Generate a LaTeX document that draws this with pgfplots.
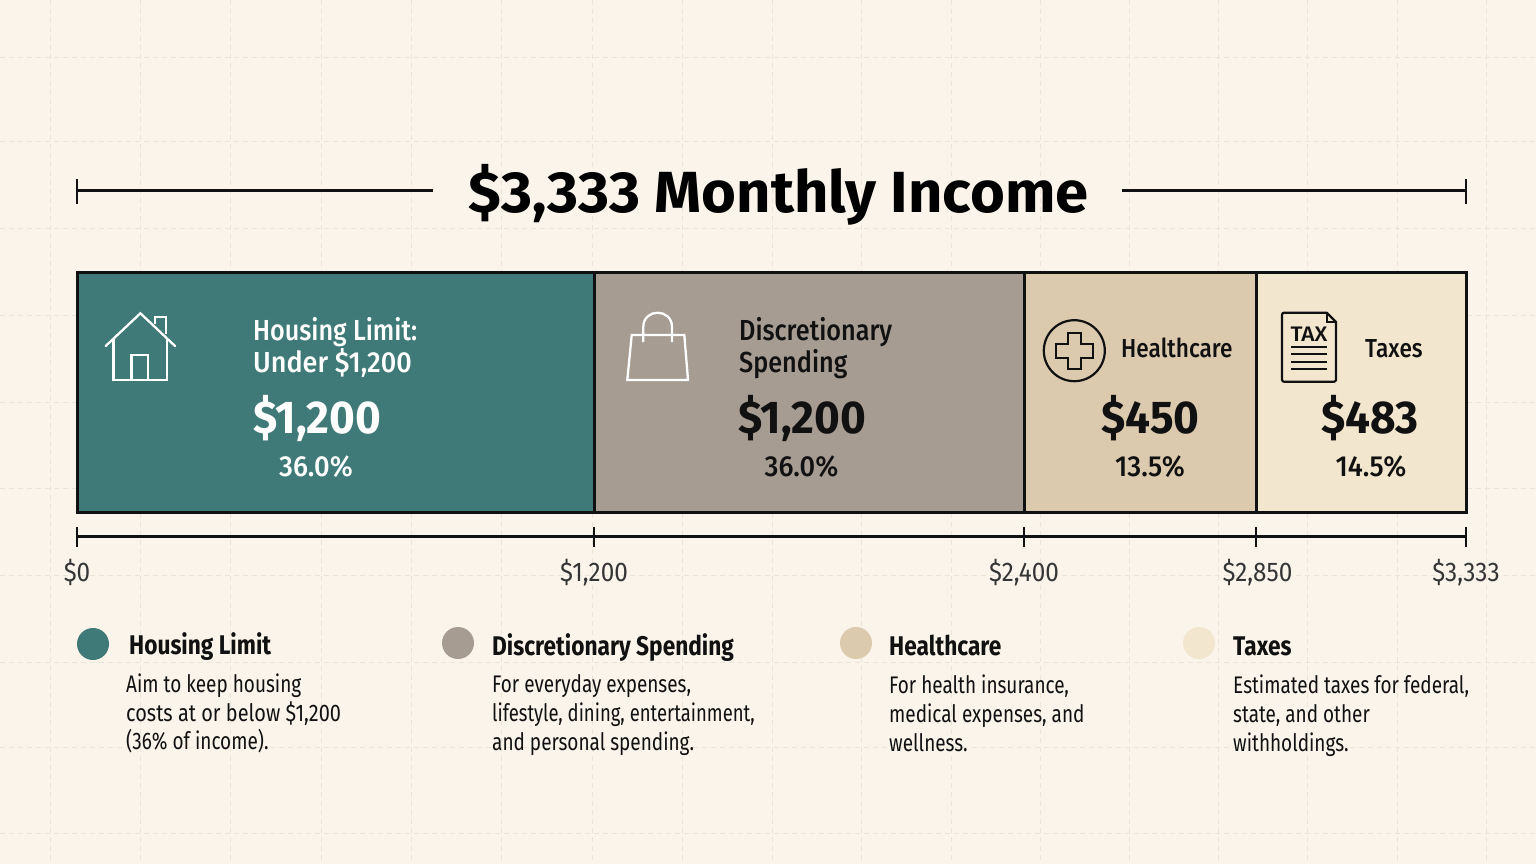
\documentclass[border=0pt]{standalone}
\usepackage{fontspec}
\usepackage{pgfplots}
\pgfplotsset{compat=1.18}
\setmainfont[FakeStretch=0.9]{Fira Sans}
\newfontfamily\narrowf[FakeStretch=0.79]{Fira Sans}
\newfontfamily\narrowerf[FakeStretch=0.77]{Fira Sans}
\newfontfamily\slightf[FakeStretch=0.83]{Fira Sans}
\newfontfamily\headf[FakeStretch=0.84]{Fira Sans}
\newfontfamily\titlef[FakeStretch=1.03]{Fira Sans}
\newfontfamily\valf[FakeStretch=0.96]{Fira Sans}
\newfontfamily\medf[FakeStretch=0.87]{Fira Sans Medium}
\newfontfamily\medwf[FakeStretch=0.93]{Fira Sans Medium}
\newfontfamily\pctf[FakeStretch=0.94]{Fira Sans Medium}
\newfontfamily\taxf[FakeStretch=1.08]{Fira Sans Medium}
\definecolor{bgc}{HTML}{FAF4EA}
\definecolor{gridc}{HTML}{ECE4D6}
\definecolor{teal1}{HTML}{3F7A78}
\definecolor{gray1}{HTML}{A69C92}
\definecolor{tan1}{HTML}{DCCAAE}
\definecolor{cream1}{HTML}{F3E6CE}
\definecolor{ink}{HTML}{111111}
\newcommand\fs[1]{\fontsize{#1}{#1}\selectfont}
% x y size colour text : left-aligned on the baseline
\newcommand\tl[5]{\node[anchor=base west,inner sep=0pt,text=#4] at (axis cs:#1,#2) {\fs{#3}#5};}
\newcommand\tc[5]{\node[anchor=base,inner sep=0pt,text=#4] at (axis cs:#1,#2) {\fs{#3}#5};}
\pgfplotsset{pix/.style={at={(0pt,0pt)},anchor=south west,width=1536pt,height=864pt,scale only axis,
  xmin=0,xmax=1536,ymin=0,ymax=864,y dir=reverse,clip=false}}
\begin{document}
\begin{tikzpicture}
\fill[bgc] (0pt,0pt) rectangle (1536pt,864pt);
% faint background grid
\begin{axis}[pix,axis line style={draw=none},tick style={draw=none},
  xticklabels={},yticklabels={},
  xtick={50,140,230,321,411,501,592,682,772,861,951,1040,1129,1218,1307,1397,1486},
  ytick={58,142,228,315,402,488,575,662,747,833},
  grid=major,grid style={gridc,line width=1pt,dash pattern=on 5pt off 4pt}]
\end{axis}
% the segments, on a dollar axis whose sections have the reference's drawn widths
\begin{axis}[at={(77pt,327pt)},anchor=south west,width=1389pt,height=264pt,scale only axis,
  x coord trafo/.code={\pgfmathparse{#1<=1200 ? 77+#1*0.430833 : (#1<=2400 ? 594+(#1-1200)*0.358333 : (#1<=2850 ? 1024+(#1-2400)*0.515556 : 1256+(#1-2850)*0.434783))}},
  xmin=0,xmax=3333,ymin=0,ymax=264,clip=false,
  axis x line=bottom,axis y line=none,
  x axis line style={-,line width=3pt,color=ink},
  xtick={0,1200,2400,2850,3333},
  xticklabels={{\$0},{\$1,200},{\$2,400},{\hspace{3pt}\$2,850},{\$3,333\hspace{4pt}}},
  xtick pos=bottom,tick align=center,major tick length=20pt,
  tick style={line width=2.5pt,color=ink},
  xticklabel style={font=\fs{27},text=ink!85!white,anchor=base,yshift=-35pt}]
\addplot[fill=teal1,draw=ink,line width=3pt] coordinates {(0,24)(1200,24)(1200,264)(0,264)} -- cycle;
\addplot[fill=gray1,draw=ink,line width=3pt] coordinates {(1200,24)(2400,24)(2400,264)(1200,264)} -- cycle;
\addplot[fill=tan1,draw=ink,line width=3pt] coordinates {(2400,24)(2850,24)(2850,264)(2400,264)} -- cycle;
\addplot[fill=cream1,draw=ink,line width=3pt] coordinates {(2850,24)(3333,24)(3333,264)(2850,264)} -- cycle;
\end{axis}
% annotation layer, in reference pixel coordinates
\begin{axis}[pix,hide axis]
% title and rulers
\tc{778.5}{212}{58}{black}{\titlef\bfseries \$3,333 Monthly Income}
\draw[ink,line width=3pt] (77,191)--(433,191);
\draw[ink,line width=2.5pt] (77,179)--(77,204);
\draw[ink,line width=3pt] (1122,191)--(1466,191);
\draw[ink,line width=2.5pt] (1466,179)--(1466,204);
% housing
\draw[white,line width=2.3pt,line cap=round,line join=miter] (105.7,346)--(140.4,313.3)--(175,346);
\draw[white,line width=2.3pt] (113.6,339)--(113.6,380)--(167,380)--(167,339);
\draw[white,line width=2.3pt] (131.4,380)--(131.4,355)--(148,355)--(148,380);
\draw[white,line width=2pt] (154.6,324)--(154.6,317.3)--(166.4,317.3)--(166.4,334);
\tl{253}{340}{29}{white}{\medf Housing Limit:}
\tl{253}{372}{29}{white}{\medwf Under \$1,200}
\tl{253}{433}{46}{white}{\valf\bfseries \$1,200}
\tc{316}{476}{29}{white}{\pctf 36.0\%}
% discretionary
\draw[white,line width=2.3pt,line join=miter] (631.7,335)--(684.3,335)--(688,380)--(627.3,380)--cycle;
\draw[white,line width=2.3pt] (643.3,342)--(643.3,327) .. controls (643.3,308) and (672,308) .. (672,327)--(672,342);
\tl{739}{340}{29}{ink}{\medf Discretionary}
\tl{739}{372}{29}{ink}{\medf Spending}
\tl{738}{433}{46}{ink}{\valf\bfseries \$1,200}
\tc{801.5}{476}{29}{ink}{\pctf 36.0\%}
% healthcare
\draw[ink,line width=2.2pt] (1074.3,350.7) circle[radius=30.5];
\draw[ink,line width=2.2pt,line join=miter] (1068,333.3)--(1081,333.3)--(1081,344)--(1092.7,344)--(1092.7,358)--(1081,358)--(1081,369.3)--(1068,369.3)--(1068,358)--(1056,358)--(1056,344)--(1068,344)--cycle;
\tl{1121}{357}{26}{ink}{\medf Healthcare}
\tc{1150.5}{433}{46}{ink}{\valf\bfseries \$450}
\tc{1150}{476}{29}{ink}{\pctf 13.5\%}
% taxes
\draw[ink,line width=2.2pt,line join=round] (1284,312.7)--(1326.7,312.7)--(1336,322)--(1336,379.7) to[out=270,in=0] (1334,381.7)--(1284,381.7) to[out=180,in=270] (1282,379.7)--(1282,314.7) to[out=90,in=180] cycle;
\draw[ink,line width=1.6pt] (1326.7,312.7)--(1326.7,322)--(1336,322);
\tc{1309}{341}{21}{ink}{\taxf TAX}
\draw[ink,line width=2pt] (1291,346.7)--(1327.3,346.7) (1291,354.3)--(1327.3,354.3) (1291,361.7)--(1327.3,361.7) (1291,369.3)--(1327.3,369.3);
\tl{1365}{357}{26}{ink}{\medf Taxes}
\tc{1370}{433}{46}{ink}{\valf\bfseries \$483}
\tc{1371}{476}{29}{ink}{\pctf 14.5\%}
% legend
\fill[teal1] (93,644) circle[radius=16];
\fill[gray1] (458,643) circle[radius=16];
\fill[tan1] (856,643) circle[radius=16];
\fill[cream1] (1199,643) circle[radius=16];
\tl{129}{654}{27}{ink}{\headf\bfseries Housing Limit}
\tl{126}{692}{24}{ink}{\narrowf Aim to keep housing}
\tl{126}{721}{24}{ink}{\slightf costs at or below \$1,200}
\tl{126}{749}{24}{ink}{\narrowf (36\% of income).}
\tl{492}{655}{27}{ink}{\headf\bfseries Discretionary Spending}
\tl{492}{692}{24}{ink}{\narrowf For everyday expenses,}
\tl{492}{721}{24}{ink}{\narrowerf lifestyle, dining, entertainment,}
\tl{492}{750}{24}{ink}{\narrowf and personal spending.}
\tl{889}{655}{27}{ink}{\headf\bfseries Healthcare}
\tl{889}{693}{24}{ink}{\narrowf For health insurance,}
\tl{889}{722}{24}{ink}{\narrowf medical expenses, and}
\tl{889}{751}{24}{ink}{\narrowf wellness.}
\tl{1233}{655}{27}{ink}{\headf\bfseries Taxes}
\tl{1233}{693}{24}{ink}{\narrowf Estimated taxes for federal,}
\tl{1233}{722}{24}{ink}{\narrowf state, and other}
\tl{1233}{751}{24}{ink}{\narrowf withholdings.}
\end{axis}
\pgfresetboundingbox
\path[use as bounding box] (0pt,0pt) rectangle (1536pt,864pt);
\end{tikzpicture}
\end{document}
